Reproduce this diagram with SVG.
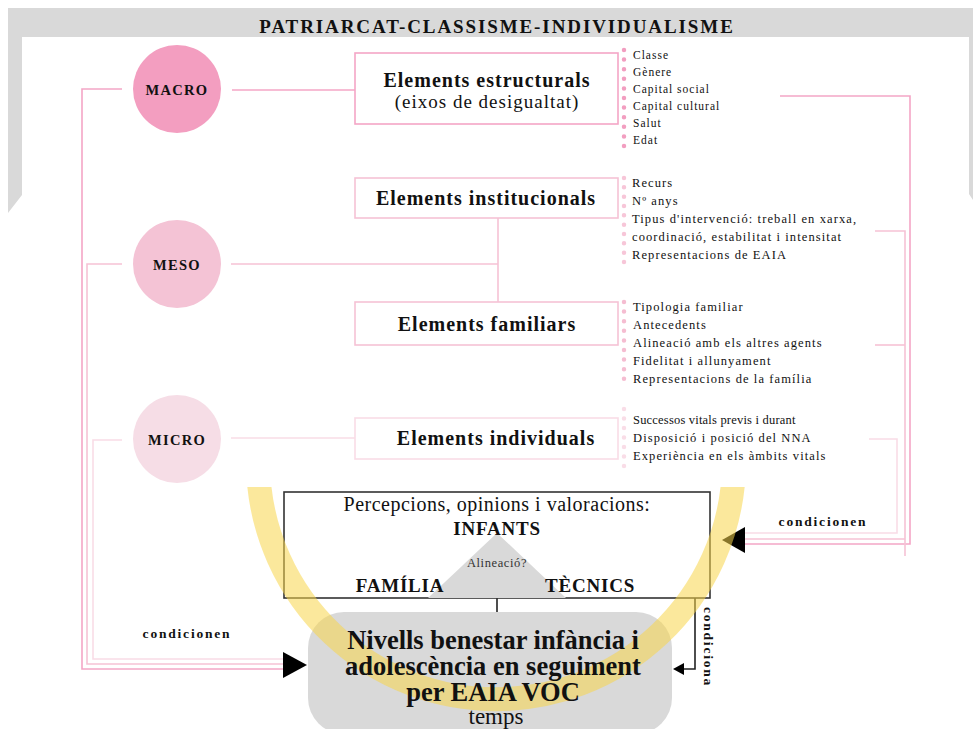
<svg xmlns="http://www.w3.org/2000/svg" width="973" height="729" viewBox="0 0 973 729">
<defs>
<style>
text{font-family:"Liberation Serif","Times New Roman",serif;fill:#111}
.ttl{font-size:19px;font-weight:bold;letter-spacing:1.9px;text-anchor:middle}
.lvl{font-size:14.5px;font-weight:bold;letter-spacing:1.3px;text-anchor:middle}
.bx{font-size:20px;font-weight:bold;letter-spacing:1px;text-anchor:middle}
.bxs{font-size:19px;letter-spacing:1px;text-anchor:middle}
.l1{font-size:11.5px;letter-spacing:1px}
.l2{font-size:12.5px;letter-spacing:1.1px}
.cond{font-size:13.5px;font-weight:bold;letter-spacing:1.8px;text-anchor:middle}
.pc{font-size:20px;letter-spacing:0.5px;text-anchor:middle}
.pb{font-size:19px;font-weight:bold;letter-spacing:0.8px;text-anchor:middle}
.big{font-size:26.5px;font-weight:bold;text-anchor:middle}
.ln{fill:none;stroke-width:1.6}
.pk1{stroke:#F4A6C6}
.pk2{stroke:#F6C2D5}
.pk3{stroke:#F9DCE6}
.box{fill:#fff;stroke-width:1.6}
.dots{stroke-width:4.5;stroke-linecap:round;fill:none}
.arr{fill:#000}
</style>
<clipPath id="clipArc"><rect x="0" y="487" width="973" height="242"/></clipPath>
</defs>
<rect x="0" y="0" width="973" height="729" fill="#fff"/>

<!-- frame -->
<polygon points="8,8 973,8 973,200 969,194 969,37 22,37 22,195 8,213" fill="#D9D9D9"/>
<text class="ttl" x="497" y="33">PATRIARCAT-CLASSISME-INDIVIDUALISME</text>

<!-- connectors -->
<g id="connectors">
  <polyline class="ln pk1" points="122,89 82,89 82,669 285,669"/>
  <polyline class="ln pk2" points="122,264 87,264 87,664 285,664"/>
  <polyline class="ln pk3" points="122,440 93,440 93,659 285,659"/>
  <line class="ln pk1" x1="232" y1="90" x2="355" y2="90"/>
  <line class="ln pk2" x1="231" y1="264" x2="498" y2="264"/>
  <line class="ln pk2" x1="498" y1="218" x2="498" y2="302"/>
  <line class="ln pk3" x1="231" y1="438" x2="355" y2="438"/>
  <polyline class="ln pk1" points="780,96 910,96 910,544 745,544"/>
  <polyline class="ln pk2" points="875,231 905,231 905,556"/>
  <polyline class="ln pk2" points="875,345 905,345"/>
  <polyline class="ln pk2" points="905,539 745,539"/>
  <polyline class="ln pk3" points="869,439 897,439 897,533 745,533"/>
  <line x1="497" y1="598" x2="497" y2="612" stroke="#222" stroke-width="1.6"/>
  <polyline points="695,598 695,669 682,669" fill="none" stroke="#222" stroke-width="1.6"/>
  <polygon class="arr" points="673,669 684,663 684,675"/>
  <polygon class="arr" points="307,665 283,652 283,678"/>
  <polygon class="arr" points="722,540 745,527 745,553"/>
</g>

<!-- level circles -->
<g id="macro">
  <circle cx="177" cy="89" r="44" fill="#F39EC0"/>
  <text class="lvl" x="177" y="95">MACRO</text>
</g>
<g id="meso">
  <circle cx="177" cy="264" r="44" fill="#F4C3D5"/>
  <text class="lvl" x="177" y="270">MESO</text>
</g>
<g id="micro">
  <circle cx="177" cy="439" r="44" fill="#F6DDE6"/>
  <text class="lvl" x="177" y="445">MICRO</text>
</g>

<!-- element boxes -->
<g id="estructurals">
  <rect class="box pk1" x="355" y="53" width="263" height="71"/>
  <text class="bx" x="487" y="87">Elements estructurals</text>
  <text class="bxs" x="487" y="108">(eixos de desigualtat)</text>
</g>
<g id="institucionals">
  <rect class="box pk2" x="355" y="178" width="263" height="40"/>
  <text class="bx" x="486" y="205">Elements institucionals</text>
</g>
<g id="familiars">
  <rect class="box pk2" x="355" y="302" width="263" height="43"/>
  <text class="bx" x="487" y="331">Elements familiars</text>
</g>
<g id="individuals">
  <rect class="box pk3" x="355" y="418" width="263" height="41"/>
  <text class="bx" x="496" y="445">Elements individuals</text>
</g>

<!-- lists -->
<g id="list-estructurals">
  <line class="dots" x1="624" y1="50" x2="624" y2="146.1" stroke="#F29EC0" stroke-dasharray="0 9.6"/>
  <text class="l1" x="633" y="59">Classe</text>
  <text class="l1" x="633" y="76">Gènere</text>
  <text class="l1" x="633" y="93">Capital social</text>
  <text class="l1" x="633" y="110">Capital cultural</text>
  <text class="l1" x="633" y="127">Salut</text>
  <text class="l1" x="633" y="144">Edat</text>
</g>
<g id="list-institucionals">
  <line class="dots" x1="624" y1="178" x2="624" y2="262.1" stroke="#F7C6D8" stroke-dasharray="0 9.33"/>
  <text class="l2" x="632" y="187">Recurs</text>
  <text class="l2" x="632" y="205">Nº anys</text>
  <text class="l2" x="632" y="223">Tipus d'intervenció: treball en xarxa,</text>
  <text class="l2" x="632" y="241">coordinació, estabilitat i intensitat</text>
  <text class="l2" x="632" y="259">Representacions de EAIA</text>
</g>
<g id="list-familiars">
  <line class="dots" x1="624" y1="302" x2="624" y2="378.9" stroke="#F5BDD1" stroke-dasharray="0 9.6"/>
  <text class="l2" x="633" y="311">Tipologia familiar</text>
  <text class="l2" x="633" y="329">Antecedents</text>
  <text class="l2" x="633" y="347">Alineació amb els altres agents</text>
  <text class="l2" x="633" y="365">Fidelitat i allunyament</text>
  <text class="l2" x="633" y="383">Representacions de la família</text>
</g>
<g id="list-individuals">
  <line class="dots" x1="624" y1="409" x2="624" y2="466.1" stroke="#F9DDE7" stroke-dasharray="0 9.5"/>
  <text class="l2" x="633" y="424" style="letter-spacing:0.2px">Successos vitals previs i durant</text>
  <text class="l2" x="633" y="442">Disposició i posició del NNA</text>
  <text class="l2" x="633" y="460">Experiència en els àmbits vitals</text>
</g>

<!-- perceptions box -->
<g id="percepcions">
  <rect x="284" y="492" width="426" height="106" fill="#fff" stroke="#333" stroke-width="1.6"/>
  <polygon points="497,533 428,598 566,598" fill="#D9D9D9"/>
  <text class="pc" x="497" y="511">Percepcions, opinions i valoracions:</text>
  <text class="pb" x="497" y="535">INFANTS</text>
  <text x="497" y="567" style="font-size:12.5px;letter-spacing:0.6px;text-anchor:middle;fill:#333">Alineació?</text>
  <text class="pb" x="400" y="592">FAMÍLIA</text>
  <text class="pb" x="590" y="592">TÈCNICS</text>
</g>

<!-- wellbeing box -->
<g id="benestar">
  <rect x="308" y="612" width="364" height="122" rx="36" fill="#D9D9D9"/>
</g>

<!-- yellow time arc -->
<path d="M 258.4 475 A 238 238 0 0 0 733.6 475" fill="none" stroke="#F7D54A" stroke-opacity="0.55" stroke-width="24" clip-path="url(#clipArc)"/>

<g id="benestar-text">
  <text class="big" x="493" y="649">Nivells benestar infància i</text>
  <text class="big" x="493" y="675">adolescència en seguiment</text>
  <text class="big" x="493" y="701">per EAIA VOC</text>
  <text x="496" y="724" style="font-size:23px;text-anchor:middle">temps</text>
</g>

<g id="labels">
  <text class="cond" x="187" y="638">condicionen</text>
  <text class="cond" x="823" y="526">condicionen</text>
  <text class="cond" transform="translate(704,647) rotate(90)">condiciona</text>
</g>
</svg>
